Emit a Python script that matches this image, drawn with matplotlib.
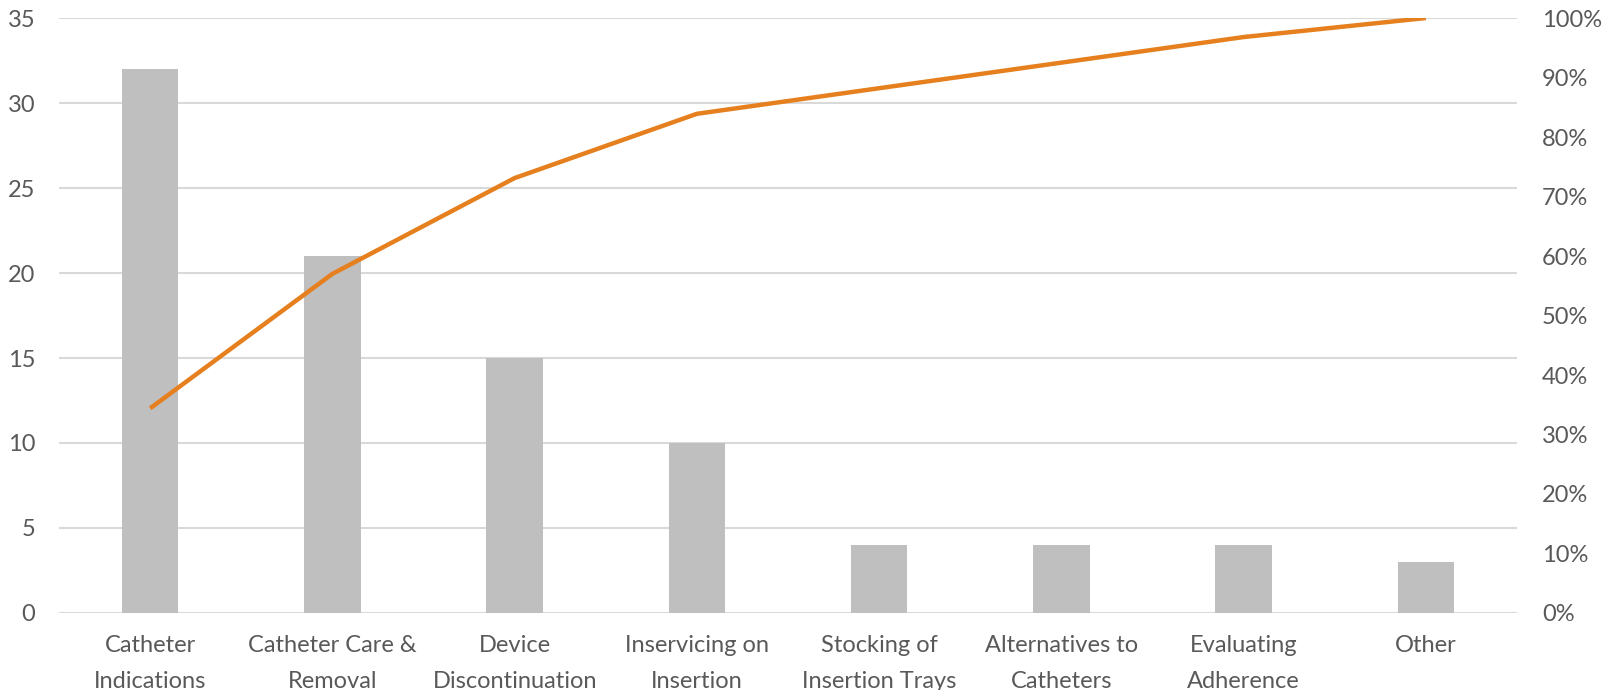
import matplotlib
matplotlib.use("Agg")
import matplotlib.pyplot as plt
from matplotlib.ticker import FuncFormatter

categories = [
    "Catheter\nIndications",
    "Catheter Care &\nRemoval",
    "Device\nDiscontinuation",
    "Inservicing on\nInsertion",
    "Stocking of\nInsertion Trays",
    "Alternatives to\nCatheters",
    "Evaluating\nAdherence",
    "Other",
]
counts = [32, 21, 15, 10, 4, 4, 4, 3]
cumulative_pct = [34.4, 57.0, 73.1, 83.9, 88.2, 92.5, 96.8, 100.0]

TEXT = "#595959"
GRID = "#D9D9D9"
BAR = "#BFBFBF"
LINE = "#E6801F"

plt.rcParams["font.family"] = ["Lato", "DejaVu Sans"]

fig = plt.figure(figsize=(16.09, 6.90), dpi=100)
ax = fig.add_axes([0.0367, 0.1116, 0.9061, 0.8623])
x = list(range(len(categories)))

ax.bar(x, counts, width=0.31, color=BAR, zorder=2)
ax.set_xlim(-0.5, len(categories) - 0.5)
ax.set_ylim(0, 35)
ax.set_yticks(range(0, 36, 5))
ax.grid(axis="y", color=GRID, linewidth=1.5, zorder=0)
ax.set_axisbelow(True)
for s in ax.spines.values():
    s.set_visible(False)
ax.tick_params(axis="y", length=0, labelsize=17, colors=TEXT, pad=17)
ax.set_xticks(x)
ax.set_xticklabels(categories, fontsize=17, color=TEXT, linespacing=1.85)
ax.tick_params(axis="x", length=0, colors=TEXT, pad=16)

ax2 = ax.twinx()
ax2.plot(x, cumulative_pct, color=LINE, linewidth=3.2, solid_capstyle="butt", zorder=3)
ax2.set_ylim(0, 100)
ax2.set_yticks(range(0, 101, 10))
ax2.yaxis.set_major_formatter(FuncFormatter(lambda v, _: f"{int(v)}%"))
for s in ax2.spines.values():
    s.set_visible(False)
ax2.tick_params(axis="y", length=0, labelsize=17, colors=TEXT, pad=18)

fig.savefig("out.png", dpi=100)
